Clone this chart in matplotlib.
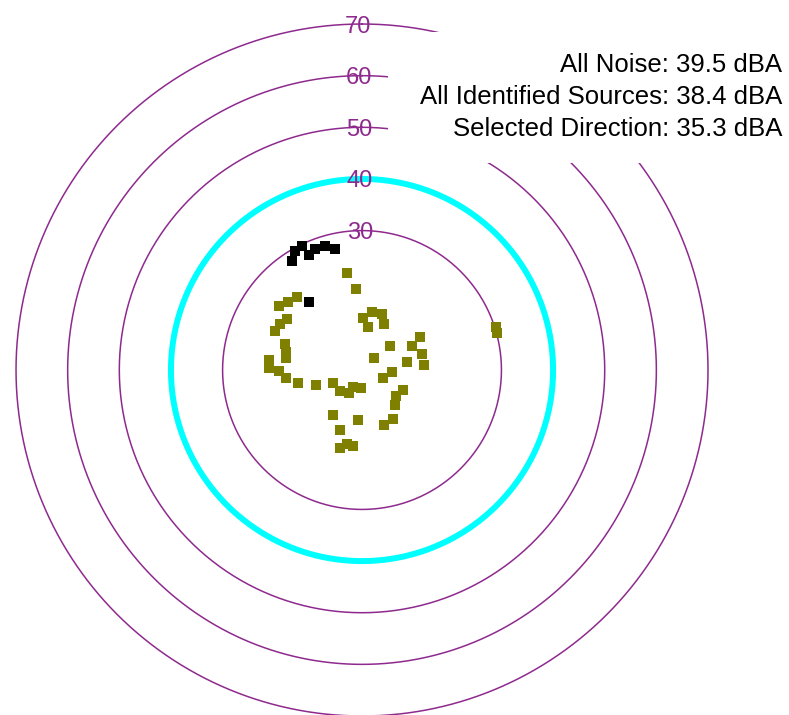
import numpy as np
import matplotlib
matplotlib.use('Agg')
import matplotlib.pyplot as plt
from matplotlib.patches import Rectangle

plt.rcParams['font.family'] = ['Liberation Sans', 'DejaVu Sans']

# ring levels (dB), the highlighted one is drawn thick cyan
ring_levels = [30, 40, 50, 60, 70]
ring_labels = ['30', '40', '50', '60', '70']
highlight_level = 40

# summary readouts
summary_lines = ['All Noise: 39.5 dBA',
                 'All Identified Sources: 38.4 dBA',
                 'Selected Direction: 35.3 dBA']

# identified sources: direction (deg, ccw from east) and level (dB)
olive_dir = [98.6, 93.9, 142.4, 137.5, 131.5, 155.9, 150.6, 145.8, 88.6, 79.9,
             70.1, 81.7, 64.4, 17.8, 15.2, 29.7, 26.2, 40.6, 161.0, 166.8,
             173.9, 178.8, 170.7, 14.8, 4.6, 44.5, 10.5, 356.8, 338.2, 180.7,
             186.2, 191.4, 198.2, 203.4, 223.7, 240.5, 240.9, 265.9, 334.2, 322.4,
             313.1, 237.2, 265.8, 302.2, 292.2, 250.1, 258.5, 254.3, 263.5]
olive_level = [22.0, 18.8, 23.4, 22.5, 22.0, 21.4, 21.3, 20.6, 13.0, 14.5,
               14.6, 11.4, 12.8, 30.3, 30.1, 16.0, 13.7, 10.1, 18.7, 18.2,
               21.2, 21.1, 17.9, 15.1, 15.1, 6.3, 11.8, 8.9, 7.3, 19.1,
               17.8, 15.7, 12.3, 9.1, 8.9, 8.2, 6.7, 6.5, 11.8, 11.4,
               12.4, 13.3, 12.7, 14.2, 14.4, 15.4, 17.7, 18.7, 17.8]

# selected direction sources
black_dir = [122.6, 119.2, 115.8, 115.0, 111.0, 106.5, 102.5, 128.2]
black_level = [28.1, 29.5, 29.7, 27.5, 28.2, 28.1, 27.1, 19.7]

purple = '#8e2a8e'

fig = plt.figure(figsize=(7.89, 7.15), dpi=100)
ax = fig.add_axes([0.02028, -0.0014, 0.8771, 0.9678], projection='polar')
ax.set_rlim(3, 70)
ax.set_axis_off()

# start rings at the top so the path seam sits under the label
theta = np.linspace(np.pi / 2, np.pi / 2 + 2 * np.pi, 721)
for lev, lab in zip(ring_levels, ring_labels):
    if lev == highlight_level:
        ax.plot(theta, np.full_like(theta, lev), color='#00ffff', lw=4.3,
                clip_on=False, zorder=2)
    else:
        ax.plot(theta, np.full_like(theta, lev), color=purple, lw=1.1,
                clip_on=False, zorder=2)
    ax.text(np.radians(90.6), lev, lab, color=purple, fontsize=17, ha='center',
            va='center_baseline', zorder=3, clip_on=False)

ax.scatter(np.radians(olive_dir), olive_level, marker='s', s=52,
           color='#808000', edgecolors='none', zorder=4, clip_on=False)
ax.scatter(np.radians(black_dir), black_level, marker='s', s=52,
           color='black', edgecolors='none', zorder=4, clip_on=False)

# white panel behind the readouts hides part of the outer rings
ax.add_patch(Rectangle((388 / 789, 1 - 163 / 715), 401 / 789, 131 / 715,
                       transform=fig.transFigure, facecolor='white',
                       edgecolor='none', zorder=5, clip_on=False))

for i, line in enumerate(summary_lines):
    fig.text(782 / 789, 1 - (72 + 32 * i) / 715, line, fontsize=18.5,
             ha='right', va='baseline', color='black', zorder=6)

fig.savefig('out.png', dpi=100, facecolor='white')
